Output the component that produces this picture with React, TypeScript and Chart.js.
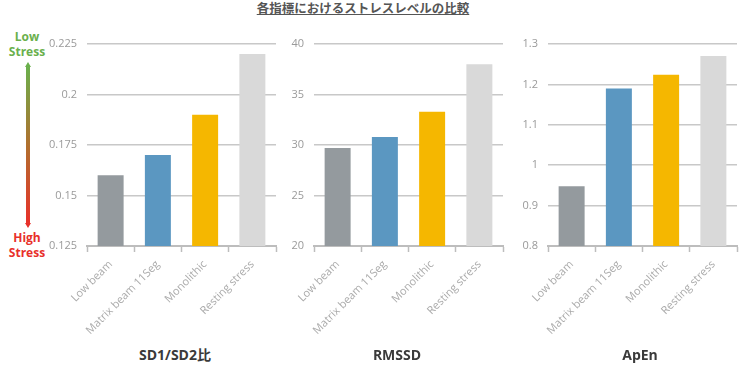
import React, { useEffect, useRef } from "react";
import { Chart, registerables } from "chart.js";
Chart.register(...registerables);

const categories = ["Low beam", "Matrix beam 11Seg", "Monolithic", "Resting stress"];
const barColors = ["#949a9e", "#5b97c1", "#f5b700", "#d9d9d9"];

const sdRatioValues = [0.16, 0.17, 0.19, 0.22];
const rmssdValues = [29.7, 30.8, 33.3, 38.0];
const apenValues = [0.948, 1.19, 1.224, 1.27];

const panelTitles = ["SD1/SD2比", "RMSSD", "ApEn"];
const mainTitle = "各指標におけるストレスレベルの比較";

const panels = [
  { values: sdRatioValues, min: 0.125, max: 0.225, step: 0.025, title: panelTitles[0], plotLeft: 87, titleX: 175 },
  { values: rmssdValues, min: 20, max: 40, step: 5, title: panelTitles[1], plotLeft: 314, titleX: 397 },
  { values: apenValues, min: 0.8, max: 1.3, step: 0.1, title: panelTitles[2], plotLeft: 548, titleX: 640 },
];

const Y_W = 47;
const PLOT_W = 189;
const RIGHT_PAD = 4;
const CANVAS_H = 345;
const X_H = 96;

function Panel({ p }: { p: any }) {
  const ref = useRef<HTMLCanvasElement | null>(null);
  useEffect(() => {
    if (!ref.current) return;
    const chart = new Chart(ref.current, {
      type: "bar",
      data: {
        labels: categories,
        datasets: [
          {
            data: p.values,
            backgroundColor: barColors,
            borderWidth: 0,
            barPercentage: 0.55,
            categoryPercentage: 1,
          },
        ],
      },
      options: {
        animation: false,
        responsive: false,
        maintainAspectRatio: false,
        layout: { padding: { top: 44, bottom: CANVAS_H - 246 - X_H, left: 0, right: RIGHT_PAD } },
        plugins: { legend: { display: false }, tooltip: { enabled: false }, title: { display: false } },
        scales: {
          x: {
            offset: true,
            afterCalculateLabelRotation: (s: any) => {
              s.labelRotation = 45;
            },
            afterFit: (s: any) => {
              s.height = X_H;
            },
            grid: {
              offset: true,
              drawOnChartArea: false,
              drawTicks: true,
              tickLength: 6,
              tickWidth: 1.5,
              tickColor: "#bdbdbd",
            },
            border: { display: true, color: "#bdbdbd", width: 2 },
            ticks: {
              minRotation: 45,
              maxRotation: 45,
              autoSkip: false,
              color: "#aaaaaa",
              padding: 6,
              font: { family: "'Open Sans', 'DejaVu Sans', sans-serif", size: 11 },
            },
          },
          y: {
            min: p.min,
            max: p.max,
            afterFit: (s: any) => {
              s.width = Y_W;
            },
            grid: { color: "#c8c8c8", lineWidth: 1.6, drawTicks: false },
            border: { display: false },
            ticks: {
              stepSize: p.step,
              padding: 10,
              color: "#9a9a9a",
              font: { family: "'Open Sans', 'DejaVu Sans', sans-serif", size: 11 },
              callback: (v: any) => String(+Number(v).toFixed(3)),
            },
          },
        },
      },
    });
    return () => chart.destroy();
  }, []);
  const w = Y_W + PLOT_W + RIGHT_PAD;
  return (
    <>
      <canvas
        ref={ref}
        width={w}
        height={CANVAS_H}
        style={{ position: "absolute", left: p.plotLeft - Y_W, top: 0, width: w, height: CANVAS_H }}
      />
      <div
        style={{
          position: "absolute",
          left: p.titleX - 100,
          width: 200,
          top: 345,
          height: 20,
          lineHeight: "20px",
          textAlign: "center",
          fontFamily: "'Open Sans', 'Noto Sans CJK JP', sans-serif",
          fontWeight: 700,
          fontSize: 14,
          color: "#3a3a3a",
        }}
      >
        {p.title}
      </div>
    </>
  );
}

export default function App() {
  useEffect(() => {
    document.body.style.margin = "0";
  }, []);
  const green = "#6ab04c";
  const red = "#e8302a";
  const legendText: any = {
    position: "absolute",
    left: 0,
    width: 54,
    textAlign: "center",
    fontFamily: "'Open Sans', 'DejaVu Sans', sans-serif",
    fontWeight: 700,
    fontSize: 12,
    lineHeight: "15px",
  };
  return (
    <div style={{ position: "relative", width: 745, height: 370, background: "#fff", overflow: "hidden" }}>
      <div
        style={{
          position: "absolute",
          left: 213,
          width: 300,
          top: 0,
          textAlign: "center",
          fontFamily: "'Noto Sans CJK JP', sans-serif",
          fontWeight: 700,
          fontSize: 12.5,
          lineHeight: "16px",
          color: "#555",
          textDecoration: "underline",
        }}
      >
        {mainTitle}
      </div>
      <div style={{ ...legendText, top: 29, color: green }}>
        Low
        <br />
        Stress
      </div>
      <div
        style={{
          position: "absolute",
          left: 26,
          top: 66,
          width: 4,
          height: 158,
          background: `linear-gradient(${green}, #b0702e, ${red})`,
        }}
      />
      <div
        style={{
          position: "absolute",
          left: 25,
          top: 62,
          width: 0,
          height: 0,
          borderLeft: "3px solid transparent",
          borderRight: "3px solid transparent",
          borderBottom: `5px solid ${green}`,
        }}
      />
      <div
        style={{
          position: "absolute",
          left: 25,
          top: 223,
          width: 0,
          height: 0,
          borderLeft: "3px solid transparent",
          borderRight: "3px solid transparent",
          borderTop: `5px solid ${red}`,
        }}
      />
      <div style={{ ...legendText, top: 230, color: red }}>
        High
        <br />
        Stress
      </div>
      {panels.map((p, i) => (
        <Panel key={i} p={p} />
      ))}
    </div>
  );
}
